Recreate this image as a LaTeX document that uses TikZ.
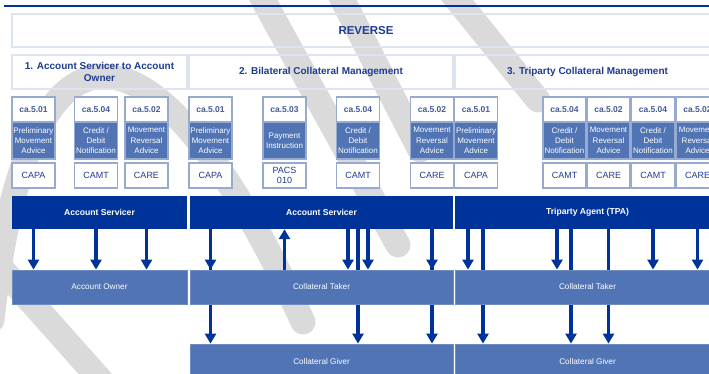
\documentclass[tikz,border=0pt]{standalone}
\usepackage{fontspec}
\setmainfont{Liberation Sans}
\usetikzlibrary{arrows.meta}
\definecolor{dkblue}{RGB}{0,51,153}
\definecolor{ltblue}{RGB}{80,116,180}
\definecolor{hdtext}{RGB}{30,60,145}
\definecolor{catext}{RGB}{70,90,150}
\definecolor{paleline}{RGB}{222,228,239}
\definecolor{boxline}{RGB}{150,170,210}
\definecolor{rowline}{RGB}{110,140,195}
\definecolor{wmgrey}{RGB}{218,218,218}
\pgfdeclarelayer{bg}
\pgfsetlayers{bg,main}
\tikzset{
  wm/.style={draw=wmgrey, line width=25pt, line cap=round},
  hdrbox/.style={draw=paleline, line width=1.6pt, inner sep=0pt, text=hdtext, align=center},
  mhead/.style={draw=boxline, line width=1.2pt, fill=white, minimum width=43pt, minimum height=25pt,
    inner sep=0pt, text=catext, font=\fontsize{8.5}{10}\selectfont\bfseries},
  mdesc/.style={draw=boxline, line width=1.2pt, fill=ltblue, minimum width=43pt, minimum height=37pt,
    inner sep=0pt, text=white, align=center, font=\fontsize{8}{10.3}\selectfont},
  mcode/.style={draw=boxline, line width=1.2pt, fill=white, minimum width=43pt, minimum height=25pt,
    inner sep=0pt, text=hdtext, align=center, font=\fontsize{9}{9.5}\selectfont},
  darkbar/.style={fill=dkblue, inner sep=0pt, minimum height=33pt, text=white,
    font=\fontsize{8.6}{10}\selectfont\bfseries},
  lightrow/.style={fill=ltblue, draw=rowline, line width=0.8pt, inner sep=0pt, text=white,
    font=\fontsize{8.2}{10}\selectfont},
  arr/.style={draw=dkblue, line width=3.2pt, -{Triangle[width=11pt,length=10pt]}},
}
\newcommand{\msgcol}[5]{%
  \node[mhead] (#1h) at (#2,109.5) {#3};
  \node[mdesc] (#1d) at (#2,140.5) {#4};
  \node[mcode] (#1c) at (#2,175.5) {#5};}
\begin{document}
\begin{tikzpicture}[x=1pt,y=-1pt]
\useasboundingbox (0,0) rectangle (709,374);
\clip (0,0) rectangle (709,374);
% top rule
\coordinate (rl) at (4,6);
\coordinate (rr) at (712,6);
\draw[dkblue, line width=1.3pt] (rl) -- (rr);
% headers
\node[hdrbox, minimum width=708pt, minimum height=33pt, font=\fontsize{11.5}{13}\selectfont\bfseries] (rev) at (366,30.5) {REVERSE};
\node[hdrbox, minimum width=175pt, minimum height=34pt, font=\fontsize{10}{12}\selectfont\bfseries] (h1) at (99.5,72) {1. Account Servicer to Account\\Owner};
\node[hdrbox, minimum width=264pt, minimum height=34pt, font=\fontsize{10}{12}\selectfont\bfseries] (h2) at (321,72) {2. Bilateral Collateral Management};
\node[hdrbox, minimum width=265pt, minimum height=34pt, font=\fontsize{10}{12}\selectfont\bfseries] (h3) at (587.5,72) {3. Triparty Collateral Management};
% message columns
\msgcol{m11}{33.5}{ca.5.01}{Preliminary\\Movement\\Advice}{CAPA}
\msgcol{m12}{96}{ca.5.04}{Credit /\\Debit\\Notification}{CAMT}
\msgcol{m13}{146.5}{ca.5.02}{Movement\\Reversal\\Advice}{CARE}
\msgcol{m21}{210.5}{ca.5.01}{Preliminary\\Movement\\Advice}{CAPA}
\msgcol{m22}{284.5}{ca.5.03}{Payment\\Instruction}{PACS\\010}
\msgcol{m23}{358}{ca.5.04}{Credit /\\Debit\\Notification}{CAMT}
\msgcol{m24}{432}{ca.5.02}{Movement\\Reversal\\Advice}{CARE}
\msgcol{m31}{476}{ca.5.01}{Preliminary\\Movement\\Advice}{CAPA}
\msgcol{m32}{564.5}{ca.5.04}{Credit /\\Debit\\Notification}{CAMT}
\msgcol{m33}{608.5}{ca.5.02}{Movement\\Reversal\\Advice}{CARE}
\msgcol{m34}{653}{ca.5.04}{Credit /\\Debit\\Notification}{CAMT}
\msgcol{m35}{697.5}{ca.5.02}{Movement\\Reversal\\Advice}{CARE}
% role bars
\node[darkbar, minimum width=175pt] (sv1) at (99.5,212.5) {Account Servicer};
\node[darkbar, minimum width=263pt] (sv2) at (321.5,212.5) {Account Servicer};
\node[darkbar, minimum width=265pt] (sv3) at (587.5,212.5) {Triparty Agent (TPA)};
\node[lightrow, minimum width=175pt, minimum height=34pt] (ao) at (99.5,287) {Account Owner};
\node[lightrow, minimum width=263pt, minimum height=34pt] (tk2) at (321.5,287) {Collateral Taker};
\node[lightrow, minimum width=265pt, minimum height=34pt] (tk3) at (587.5,287) {Collateral Taker};
\node[lightrow, minimum width=263pt, minimum height=36pt] (gv2) at (321.5,362) {Collateral Giver};
\node[lightrow, minimum width=265pt, minimum height=36pt] (gv3) at (587.5,362) {Collateral Giver};
% arrow x positions
\coordinate (a23l) at ([xshift=-10pt]m23c.south);
\coordinate (a23r) at ([xshift=10pt]m23c.south);
\coordinate (a31l) at ([xshift=-8pt]m31c.south);
\coordinate (a31r) at ([xshift=7pt]m31c.south);
\coordinate (a32l) at ([xshift=-7.5pt]m32c.south);
\coordinate (a32r) at ([xshift=6.5pt]m32c.south);
% background: white page, watermark and long arrows behind the taker rows
\begin{pgfonlayer}{bg}
  \fill[white] (0,0) rectangle (709,374);
  \draw[wm] (-8,320) .. controls (30,-20) and (160,10) .. (303,322);
  \draw[wm] (-15,250) -- (105,385);
  \draw[wm] (255,-15) -- (398,245);
  \draw[wm] (335,-15) -- (420,150);
  \draw[wm] (445,-15) -- (538,100);
  \draw[arr] (sv2.south -| m21c.south) -- (gv2.north -| m21c.south);
  \draw[arr] (sv2.south -| m23c.south) -- (gv2.north -| m23c.south);
  \draw[arr] (sv2.south -| m24c.south) -- (gv2.north -| m24c.south);
  \draw[arr] (sv3.south -| a31r) -- (gv3.north -| a31r);
  \draw[arr] (sv3.south -| a32r) -- (gv3.north -| a32r);
  \draw[arr] (sv3.south -| m33c.south) -- (gv3.north -| m33c.south);
\end{pgfonlayer}
% short arrows
\draw[arr] (sv1.south -| m11c.south) -- (ao.north -| m11c.south);
\draw[arr] (sv1.south -| m12c.south) -- (ao.north -| m12c.south);
\draw[arr] (sv1.south -| m13c.south) -- (ao.north -| m13c.south);
\draw[arr] (sv2.south -| m21c.south) -- (tk2.north -| m21c.south);
\draw[arr] (tk2.north -| m22c.south) -- (sv2.south -| m22c.south);
\draw[arr] (sv2.south -| a23l) -- (tk2.north -| a23l);
\draw[arr] (sv2.south -| a23r) -- (tk2.north -| a23r);
\draw[arr] (sv2.south -| m24c.south) -- (tk2.north -| m24c.south);
\draw[arr] (sv3.south -| a31l) -- (tk3.north -| a31l);
\draw[arr] (sv3.south -| a32l) -- (tk3.north -| a32l);
\draw[arr] (sv3.south -| m34c.south) -- (tk3.north -| m34c.south);
\draw[arr] (sv3.south -| m35c.south) -- (tk3.north -| m35c.south);
\end{tikzpicture}
\end{document}
